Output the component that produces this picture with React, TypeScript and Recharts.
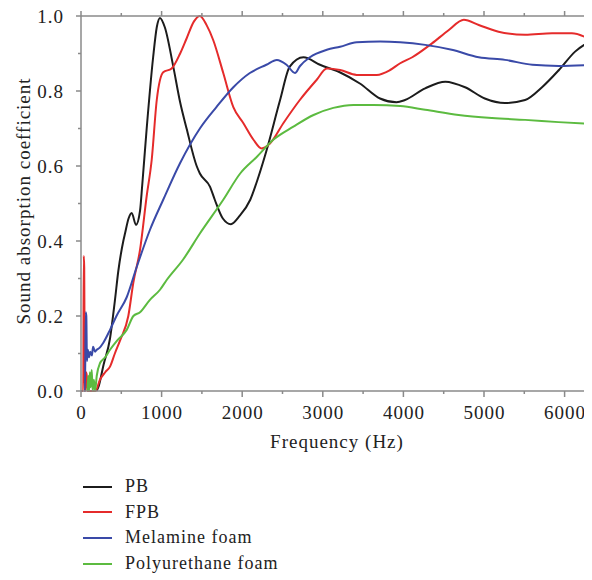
import React from 'react';
import { LineChart, Line, XAxis, YAxis, Legend, Label } from 'recharts';

// ---- data (frequency in Hz, sound absorption coefficient) ----
const pbFreq = [190, 215, 280, 360, 420, 463, 525, 546, 590, 629, 682, 732, 760, 815, 895, 940, 980, 1040, 1145, 1230, 1310, 1435, 1475, 1600, 1660, 1760, 1860, 1960, 2100, 2200, 2300, 2470, 2590, 2760, 2965, 3210, 3460, 3710, 3915, 4020, 4270, 4520, 4765, 5010, 5260, 5510, 5720, 5930, 6130, 6340];
const pbAbs = [0, 0.01, 0.07, 0.14, 0.24, 0.32, 0.4, 0.42, 0.46, 0.475, 0.443, 0.48, 0.55, 0.7, 0.89, 0.97, 0.995, 0.97, 0.865, 0.77, 0.7, 0.6, 0.58, 0.545, 0.51, 0.46, 0.445, 0.465, 0.51, 0.57, 0.64, 0.776, 0.865, 0.89, 0.87, 0.85, 0.82, 0.78, 0.77, 0.776, 0.807, 0.825, 0.81, 0.78, 0.768, 0.776, 0.81, 0.856, 0.905, 0.935];

const fpbFreq = [0, 28, 34, 40, 46, 52, 62, 72, 80, 180, 235, 300, 360, 420, 485, 587, 650, 732, 815, 877, 940, 1020, 1125, 1230, 1310, 1400, 1475, 1560, 1640, 1765, 1890, 2015, 2140, 2240, 2345, 2510, 2715, 2925, 3050, 3215, 3420, 3670, 3835, 3960, 4110, 4355, 4560, 4750, 4935, 5180, 5510, 5845, 6090, 6340];
const fpbAbs = [0, 0, 0.36, 0.33, 0.05, 0, 0.05, 0.04, 0, 0, 0.03, 0.05, 0.065, 0.1, 0.135, 0.2, 0.29, 0.376, 0.52, 0.616, 0.776, 0.85, 0.86, 0.9, 0.94, 0.985, 1.0, 0.975, 0.936, 0.848, 0.757, 0.714, 0.67, 0.647, 0.66, 0.714, 0.776, 0.83, 0.86, 0.856, 0.843, 0.843, 0.856, 0.874, 0.89, 0.927, 0.962, 0.99, 0.976, 0.958, 0.95, 0.954, 0.954, 0.935];

const melFreq = [40, 50, 58, 66, 74, 85, 100, 115, 135, 150, 175, 195, 230, 275, 360, 440, 567, 690, 856, 1020, 1230, 1475, 1680, 1890, 2095, 2300, 2430, 2550, 2655, 2715, 2840, 3050, 3215, 3420, 3710, 3960, 4270, 4600, 4935, 5260, 5600, 5925, 6340];
const melAbs = [0, 0, 0.21, 0.2, 0.08, 0.11, 0.09, 0.105, 0.095, 0.118, 0.105, 0.11, 0.115, 0.128, 0.163, 0.2, 0.25, 0.33, 0.43, 0.51, 0.608, 0.7, 0.757, 0.81, 0.848, 0.87, 0.883, 0.87, 0.848, 0.866, 0.89, 0.91, 0.918, 0.93, 0.932, 0.93, 0.923, 0.91, 0.89, 0.883, 0.87, 0.867, 0.87];

const puFreq = [80, 90, 100, 110, 120, 133, 145, 160, 175, 195, 235, 300, 360, 450, 567, 650, 732, 855, 980, 1063, 1265, 1475, 1765, 1975, 2180, 2385, 2635, 2885, 3130, 3380, 3630, 3960, 4270, 4685, 5100, 5510, 5925, 6340];
const puAbs = [0, 0.04, 0, 0.05, 0.01, 0.056, 0, 0.03, 0, 0.04, 0.074, 0.09, 0.11, 0.135, 0.163, 0.2, 0.21, 0.243, 0.27, 0.296, 0.35, 0.42, 0.51, 0.58, 0.624, 0.67, 0.705, 0.736, 0.755, 0.763, 0.763, 0.76, 0.75, 0.736, 0.728, 0.723, 0.717, 0.712];

const seriesNames = ['PB', 'FPB', 'Melamine foam', 'Polyurethane foam'];
const seriesColors = ['#1c1c1c', '#e52b2b', '#3a4aa8', '#5cbb40'];

const xTicks = [0, 500, 1000, 1500, 2000, 2500, 3000, 3500, 4000, 4500, 5000, 5500, 6000];
const yTicks = [0, 0.1, 0.2, 0.3, 0.4, 0.5, 0.6, 0.7, 0.8, 0.9, 1.0];

const zip = (f: number[], v: number[]) => f.map((x, i) => ({ f: x, v: v[i] }));
const seriesData = [zip(pbFreq, pbAbs), zip(fpbFreq, fpbAbs), zip(melFreq, melAbs), zip(puFreq, puAbs)];

const AXIS = '#8a8a8a';
const TEXT = '#222';
const FONT = "'Liberation Serif', 'Times New Roman', 'DejaVu Serif', serif";
const FS = 19;

const BottomTick = (props: any) => {
  const { x, y, payload } = props;
  const major = Math.round(payload.value) % 1000 === 0;
  return (
    <g>
      <line x1={x} x2={x} y1={y} y2={y + (major ? 6 : 3)} stroke={AXIS} strokeWidth={1.5} />
      {major && (
        <text x={x + 0.5} y={y + 15} dy="0.71em" textAnchor="middle" fontSize={FS} fill={TEXT} fontFamily={FONT}>
          {payload.value}
        </text>
      )}
    </g>
  );
};

const TopTick = (props: any) => {
  const { x, y, payload } = props;
  const major = Math.round(payload.value) % 1000 === 0;
  return <line x1={x} x2={x} y1={y} y2={y - (major ? 5 : 3)} stroke={AXIS} strokeWidth={1.5} />;
};

const LeftTick = (props: any) => {
  const { x, y, payload } = props;
  const k = Math.round(payload.value * 10);
  const major = k % 2 === 0;
  return (
    <g>
      <line x1={x} x2={x - (major ? 5 : 3)} y1={y} y2={y} stroke={AXIS} strokeWidth={1.5} />
      {major && (
        <text x={x - 17} y={y} dy="0.355em" textAnchor="end" fontSize={FS} fill={TEXT} fontFamily={FONT}>
          {(k / 10).toFixed(1)}
        </text>
      )}
    </g>
  );
};

const renderLegend = () => (
  <div style={{ fontSize: 18, color: TEXT, fontFamily: FONT }}>
    {seriesNames.map((name, i) => (
      <div key={name} style={{ display: 'flex', alignItems: 'center', height: 25.6 }}>
        <span style={{ display: 'inline-block', width: 29, height: 2, background: seriesColors[i], marginRight: 13 }} />
        <span>{name}</span>
      </div>
    ))}
  </div>
);

export default function App() {
  return (
    <div style={{ fontFamily: FONT, letterSpacing: '1px', width: 584, height: 580, marginTop: -8 }}>
      <LineChart width={584} height={580} margin={{ top: 8, right: 0, bottom: 129, left: 0 }}>
        <XAxis
          xAxisId="bottom"
          dataKey="f"
          type="number"
          domain={[0, 6340]}
          allowDataOverflow
          ticks={xTicks}
          interval={0}
          tickSize={0}
          tickMargin={0}
          tickLine={false}
          tick={<BottomTick />}
          height={60}
          axisLine={{ stroke: AXIS, strokeWidth: 1.5 }}
        >
          <Label
            content={(p: any) => {
              const vb = p.viewBox;
              return (
                <text x={vb.x + vb.width / 2 + 0.5} y={vb.y + 57} textAnchor="middle" fontSize={FS} fill={TEXT} fontFamily={FONT}>
                  Frequency (Hz)
                </text>
              );
            }}
          />
        </XAxis>
        <XAxis
          xAxisId="top"
          orientation="top"
          dataKey="f"
          type="number"
          domain={[0, 6340]}
          allowDataOverflow
          ticks={xTicks}
          interval={0}
          tickSize={0}
          tickMargin={0}
          tickLine={false}
          tick={<TopTick />}
          height={8}
          axisLine={{ stroke: AXIS, strokeWidth: 1.5 }}
        />
        <YAxis
          type="number"
          domain={[0, 1]}
          ticks={yTicks}
          interval={0}
          width={73}
          tickSize={0}
          tickMargin={0}
          tickLine={false}
          tick={<LeftTick />}
          axisLine={{ stroke: AXIS, strokeWidth: 1.5 }}
        >
          <Label
            content={() => {
              const cx = 21.5;
              const cy = 201;
              return (
                <text x={cx} y={cy} transform={`rotate(-90, ${cx}, ${cy})`} textAnchor="middle" fontSize={FS} fill={TEXT} fontFamily={FONT}>
                  Sound absorption coefficient
                </text>
              );
            }}
          />
        </YAxis>
        {seriesData.map((d, i) => (
          <Line
            key={seriesNames[i]}
            xAxisId="bottom"
            data={d}
            dataKey="v"
            name={seriesNames[i]}
            type="monotone"
            stroke={seriesColors[i]}
            strokeWidth={2}
            dot={false}
            isAnimationActive={false}
          />
        ))}
        <Legend
          layout="vertical"
          align="center"
          verticalAlign="middle"
          content={renderLegend}
          wrapperStyle={{ position: 'absolute', left: 75, top: 474, width: 'auto', height: 'auto' }}
        />
      </LineChart>
    </div>
  );
}
